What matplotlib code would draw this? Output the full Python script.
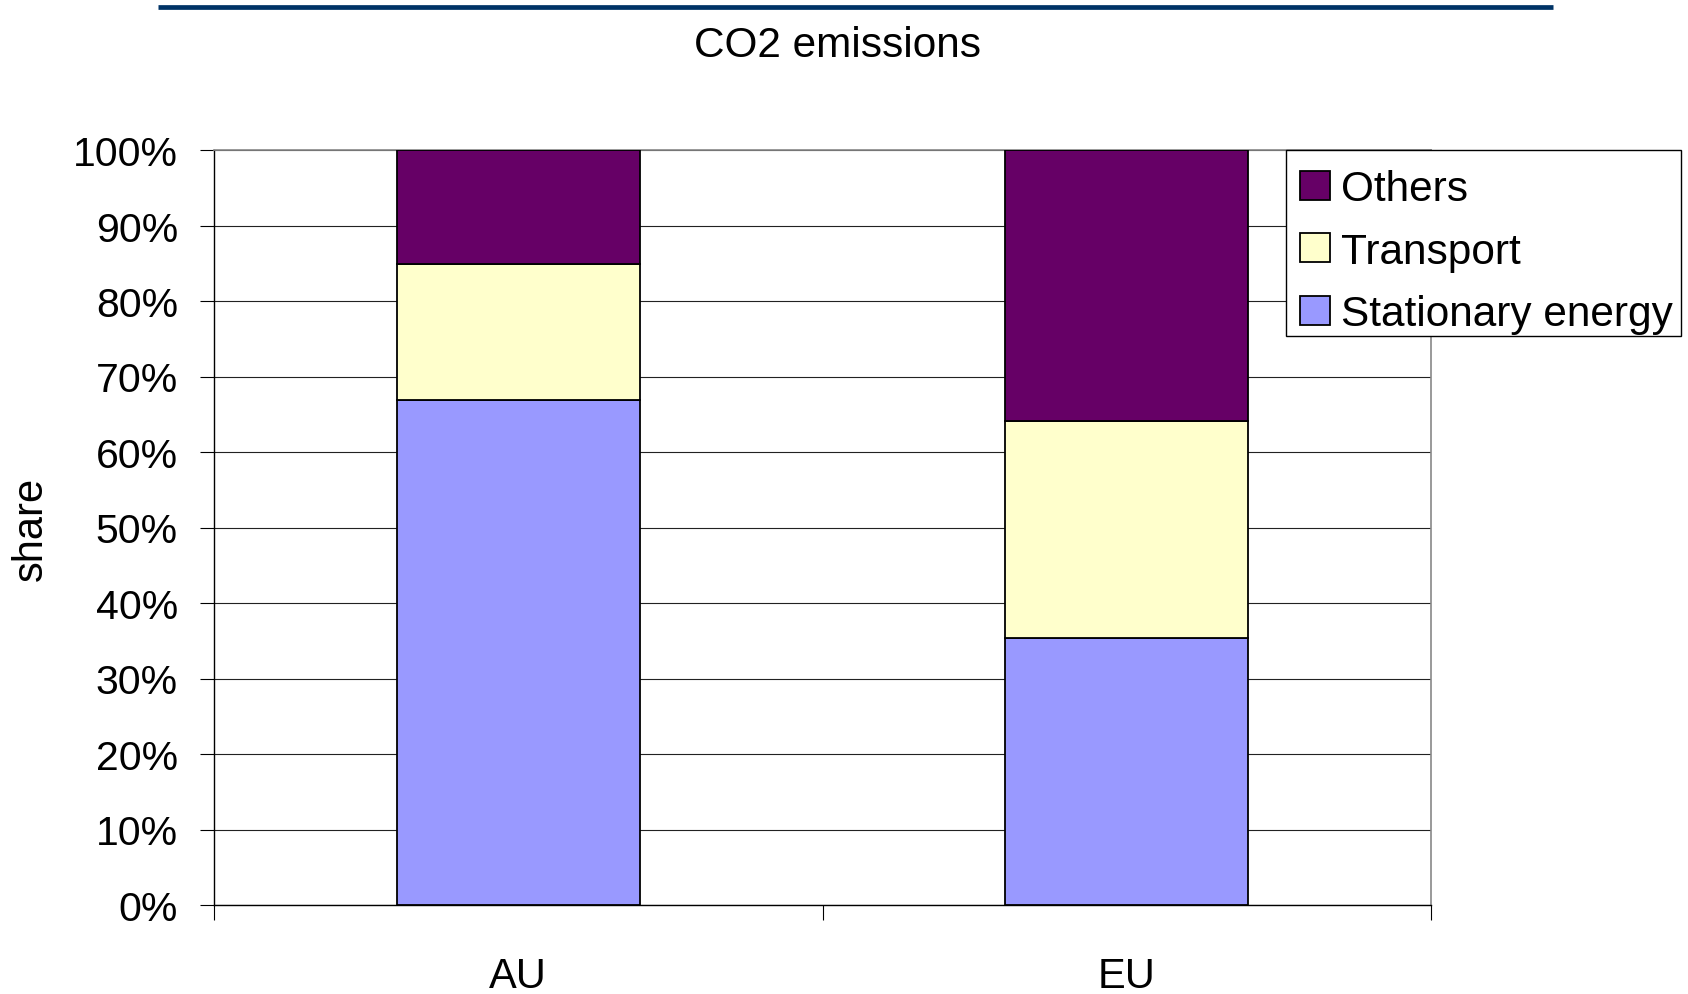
import matplotlib
matplotlib.use("Agg")
import matplotlib.pyplot as plt
from matplotlib.lines import Line2D
from matplotlib.patches import Rectangle

plt.rcParams['font.family'] = ['Liberation Sans', 'DejaVu Sans']

# Data: share of CO2 emissions by sector (%)
regions = ["AU", "EU"]
stationary_energy = [66.9, 35.4]
transport = [18.0, 28.7]
others = [15.1, 35.9]
ytick_values = [0, 10, 20, 30, 40, 50, 60, 70, 80, 90, 100]
ytick_labels = [f"{v}%" for v in ytick_values]

col_stat = "#9999FF"
col_trans = "#FFFFCC"
col_oth = "#660066"

W, H, DPI = 1688, 995, 100
fig = plt.figure(figsize=(W / DPI, H / DPI), dpi=DPI)
ax = fig.add_axes([214 / W, 1 - 906 / H, (1431 - 214) / W, (906 - 151) / H])

x = list(range(len(regions)))
bw = 0.4
edge = dict(edgecolor="black", linewidth=1.3, zorder=3)
b1 = ax.bar(x, stationary_energy, bw, color=col_stat, label="Stationary energy", **edge)
bottom2 = stationary_energy
b2 = ax.bar(x, transport, bw, bottom=bottom2, color=col_trans, label="Transport", **edge)
bottom3 = [s + t for s, t in zip(stationary_energy, transport)]
b3 = ax.bar(x, others, bw, bottom=bottom3, color=col_oth, label="Others", **edge)

ax.set_xlim(-0.5, len(regions) - 0.5)
ax.set_ylim(0, 100)

# y axis
ax.set_yticks(ytick_values)
ax.set_yticklabels(ytick_labels)
ax.tick_params(axis="y", direction="out", length=10, width=0.8, color="black",
               labelsize=29.5, pad=16)
ax.yaxis.grid(True, color="#222222", linewidth=0.8, zorder=0)
ax.set_axisbelow(True)

# x axis: labels at category centers, tick marks at category boundaries
ax.set_xticks(x)
ax.set_xticklabels(regions)
ax.set_xticks([i - 0.5 for i in range(len(regions) + 1)], minor=True)
ax.tick_params(axis="x", which="major", length=0, labelsize=30, pad=37)
ax.tick_params(axis="x", which="minor", direction="out", length=11, width=0.8, color="black")

for side in ("left", "bottom"):
    ax.spines[side].set_color("black")
    ax.spines[side].set_linewidth(1.0)
for side in ("top", "right"):
    ax.spines[side].set_color("#888888")
    ax.spines[side].set_linewidth(1.2)

ax.set_ylabel("share", fontsize=30)
ax.yaxis.set_label_coords(-0.1504, 0.5)
ax.yaxis.label.set_va("center")

# title and rule above it
fig.text(838 / W, 1 - 46 / H, "CO2 emissions", ha="center", va="center", fontsize=30.5)
fig.add_artist(Line2D([158 / W, 1553 / W], [1 - 8 / H, 1 - 8 / H],
                      color="#003366", linewidth=3.4, solid_capstyle="butt"))

# legend box (white, black border) with the entries placed inside it
fig.add_artist(Rectangle((1286 / W, 1 - 337 / H), (1681 - 1286) / W, (337 - 151) / H,
                         transform=fig.transFigure, facecolor="white",
                         edgecolor="black", linewidth=1.0, zorder=4))
leg = fig.legend(handles=[b3, b2, b1], labels=["Others", "Transport", "Stationary energy"],
                 loc="upper left", bbox_to_anchor=(1287 / W, 1 - 157.5 / H),
                 bbox_transform=fig.transFigure, fontsize=30.5, frameon=False,
                 borderaxespad=0, borderpad=0.3, handlelength=0.72, handleheight=0.67,
                 handletextpad=0.25, labelspacing=0.53)
leg.set_zorder(5)

fig.savefig("out.png", dpi=DPI)
